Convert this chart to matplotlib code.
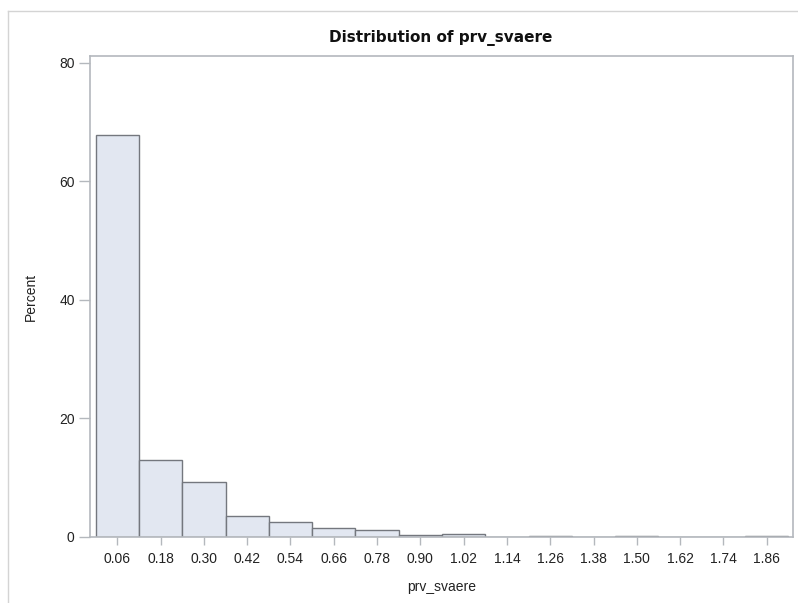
import matplotlib.pyplot as plt
from matplotlib.lines import Line2D
import numpy as np

# bin midpoints and percent per bin
bin_mids = [0.06, 0.18, 0.30, 0.42, 0.54, 0.66, 0.78, 0.90, 1.02, 1.14,
            1.26, 1.38, 1.50, 1.62, 1.74, 1.86]
percent = [67.7, 12.9, 9.3, 3.5, 2.6, 1.6, 1.1, 0.3, 0.5, 0.0,
           0.2, 0.0, 0.2, 0.0, 0.0, 0.2]
tick_labels = [f"{m:.2f}" for m in bin_mids]
bin_width = 0.12

W, H = 798, 603
fig = plt.figure(figsize=(W / 100, H / 100), dpi=100)
ax = fig.add_axes([90 / W, 1 - 537 / H, (793 - 90) / W, (537 - 56) / H])

frame_col = '#b4b8bd'
ax.bar(bin_mids, percent, width=bin_width, color='#e2e7f1',
       edgecolor='#74777e', linewidth=1.0, zorder=2)

ax.set_xlim(-0.0157, 1.933)
ax.set_ylim(0, 81.1)
ax.set_xticks(bin_mids)
ax.set_xticklabels(tick_labels)
ax.set_yticks([0, 20, 40, 60, 80])

for s in ax.spines.values():
    s.set_color(frame_col)
    s.set_linewidth(1.2)

tick_font = {'family': 'Liberation Sans', 'size': 10}
ax.tick_params(axis='both', direction='out', colors=frame_col, labelcolor='#222222')
ax.tick_params(axis='x', length=6, width=1, pad=5)
ax.tick_params(axis='y', length=8, width=1, pad=3)
for lab in ax.get_xticklabels() + ax.get_yticklabels():
    lab.set_fontfamily('Liberation Sans')
    lab.set_fontsize(10)

ax.set_xlabel('prv_svaere', fontdict=tick_font, color='#222222', labelpad=10)
ax.set_ylabel('Percent', fontdict=tick_font, color='#222222', labelpad=15)
fig.text(441 / W, 1 - 38 / H, 'Distribution of prv_svaere', ha='center', va='center',
         fontsize=11, fontweight='bold', family='DejaVu Sans', color='#111111')

# outer panel border
fig.add_artist(Line2D([8 / W, 1], [1 - 11 / H, 1 - 11 / H], transform=fig.transFigure,
                      color='#d4d4d4', linewidth=1))
fig.add_artist(Line2D([8 / W, 8 / W], [0, 1 - 11 / H], transform=fig.transFigure,
                      color='#d4d4d4', linewidth=1))

fig.savefig('out.png', dpi=100)
